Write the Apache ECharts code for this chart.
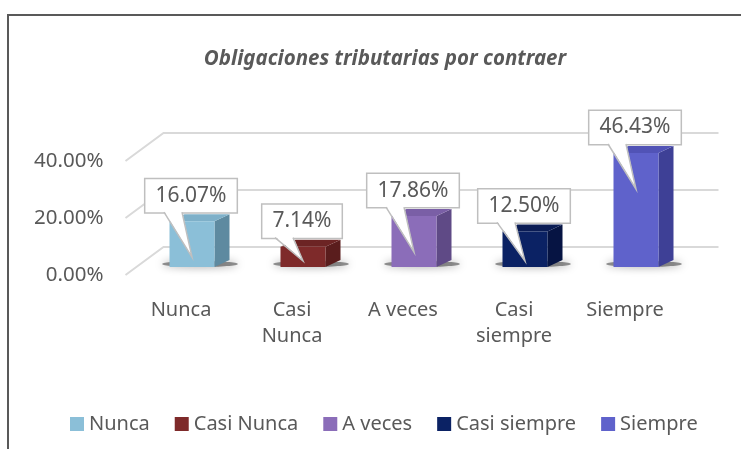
<!DOCTYPE html>
<html>
<head>
<meta charset="utf-8">
<script src="https://cdn.jsdelivr.net/npm/echarts@6/dist/echarts.min.js"></script>
<style>html,body{margin:0;padding:0;background:#fff}#main{width:741px;height:449px}</style>
</head>
<body>
<div id="main"></div>
<script>
var categories = ['Nunca', 'Casi Nunca', 'A veces', 'Casi siempre', 'Siempre'];
var axisNames = ['Nunca', 'Casi\nNunca', 'A veces', 'Casi\nsiempre', 'Siempre'];
var values = [16.07, 7.14, 17.86, 12.50, 46.43];
var yTicks = [0, 20, 40];
var frontColors = ['#8bbfd8', '#7e2a2a', '#8b6db9', '#0b2264', '#5f62cb'];
var sideColors = ['#5e8aa0', '#5a1d1d', '#5f4a86', '#061443', '#3e4096'];
var topColors = ['#7eb0c9', '#6c2424', '#7a5fa6', '#0a1c55', '#5153b6'];

var yMax = 40;
var font = '"Noto Sans", sans-serif';
var txt = '#595959';
var wall = [38, -28];     // slant of the side wall
var shift = [11, -8];     // bars sit a bit behind the front plane
var barW = 45, sideX = 15, sideY = -7;

var myChart = echarts.init(document.getElementById('main'));

function gridLine(params, api) {
  var cs = params.coordSys;
  var y = api.coord([0, api.value(1)])[1];
  var x = cs.x;
  return {
    type: 'polyline', silent: true,
    shape: {points: [[x, y], [x + wall[0], y + wall[1]], [x + cs.width + wall[0], y + wall[1]]]},
    style: {stroke: '#d9d9d9', lineWidth: 2, fill: null}
  };
}

function bar3d(params, api) {
  var i = api.value(0), v = api.value(1);
  var base = api.coord([i, 0]);
  var top = api.coord([i, Math.min(v, yMax)]);
  var cx = base[0] + shift[0];
  var x0 = cx - barW / 2, x1 = cx + barW / 2;
  var yb = base[1] + shift[1], yt = top[1] + shift[1];
  var by = yt - 9;
  var tip = Math.min(by + 45, yb - 6);
  return {
    type: 'group',
    children: [
      // soft shadow on the floor
      {type: 'ellipse', silent: true, shape: {cx: cx + 8, cy: yb - 3, rx: 38, ry: 3},
        style: {fill: 'rgba(60,60,60,0.55)', shadowBlur: 8, shadowColor: 'rgba(0,0,0,0.7)'}},
      {type: 'polygon', shape: {points: [[x1, yb], [x1 + sideX, yb + sideY], [x1 + sideX, yt + sideY], [x1, yt]]},
        style: {fill: sideColors[i]}},
      {type: 'polygon', shape: {points: [[x0, yt], [x1, yt], [x1 + sideX, yt + sideY], [x0 + sideX, yt + sideY]]},
        style: {fill: topColors[i]}},
      {type: 'rect', shape: {x: x0, y: yt, width: barW, height: yb - yt}, style: {fill: frontColors[i]}},
      {type: 'text', style: {text: v.toFixed(2) + '%', x: cx - 1, y: by, align: 'center', verticalAlign: 'bottom',
        font: '21px ' + font, fill: txt, backgroundColor: '#fff', borderColor: '#bfbfbf', borderWidth: 1.5, padding: [6, 10]}},
      {type: 'polygon', shape: {points: [[cx - 28, by - 1.5], [cx - 10, by - 1.5], [cx, tip]]}, style: {fill: '#fff'}},
      {type: 'polyline', shape: {points: [[cx - 28, by], [cx, tip], [cx - 10, by]]},
        style: {stroke: '#bfbfbf', lineWidth: 1.5, fill: null}}
    ]
  };
}

var series = [{type: 'custom', name: 'grid', renderItem: gridLine, data: yTicks.map(function (t) { return [0, t]; }), z: 1}];
categories.forEach(function (name, i) {
  series.push({type: 'custom', name: name, renderItem: bar3d, data: [[i, values[i]]],
    itemStyle: {color: frontColors[i]}, z: 2});
});

var option = {
  animation: false,
  title: {
    text: 'Obligaciones tributarias por contraer',
    left: 380, top: 44, textAlign: 'center',
    textStyle: {fontFamily: font, fontSize: 20.5, fontWeight: 'bold', fontStyle: 'italic', color: txt}
  },
  legend: {
    data: categories, left: 65, top: 409, icon: 'rect', itemWidth: 14, itemHeight: 14, itemGap: 25,
    textStyle: {fontFamily: font, fontSize: 20, color: txt}
  },
  grid: {left: 125.5, right: 60.5, top: 161, bottom: 174},
  xAxis: {
    type: 'category', data: categories,
    axisLine: {show: false}, axisTick: {show: false},
    axisLabel: {fontFamily: font, fontSize: 20, color: txt, margin: 22, lineHeight: 26, interval: 0,
      formatter: function (v, idx) { return axisNames[idx]; }}
  },
  yAxis: {
    type: 'value', min: 0, max: yMax, interval: 20,
    axisLine: {show: false}, axisTick: {show: false}, splitLine: {show: false},
    axisLabel: {fontFamily: font, fontSize: 20.5, color: txt, margin: 22, padding: [6, 0, 0, 0],
      formatter: function (v) { return v.toFixed(2) + '%'; }}
  },
  graphic: [{type: 'rect', silent: true, shape: {x: 8, y: 15, width: 760, height: 460},
    style: {fill: 'none', stroke: '#595959', lineWidth: 2}}],
  series: series
};
myChart.setOption(option);
</script>
</body>
</html>
